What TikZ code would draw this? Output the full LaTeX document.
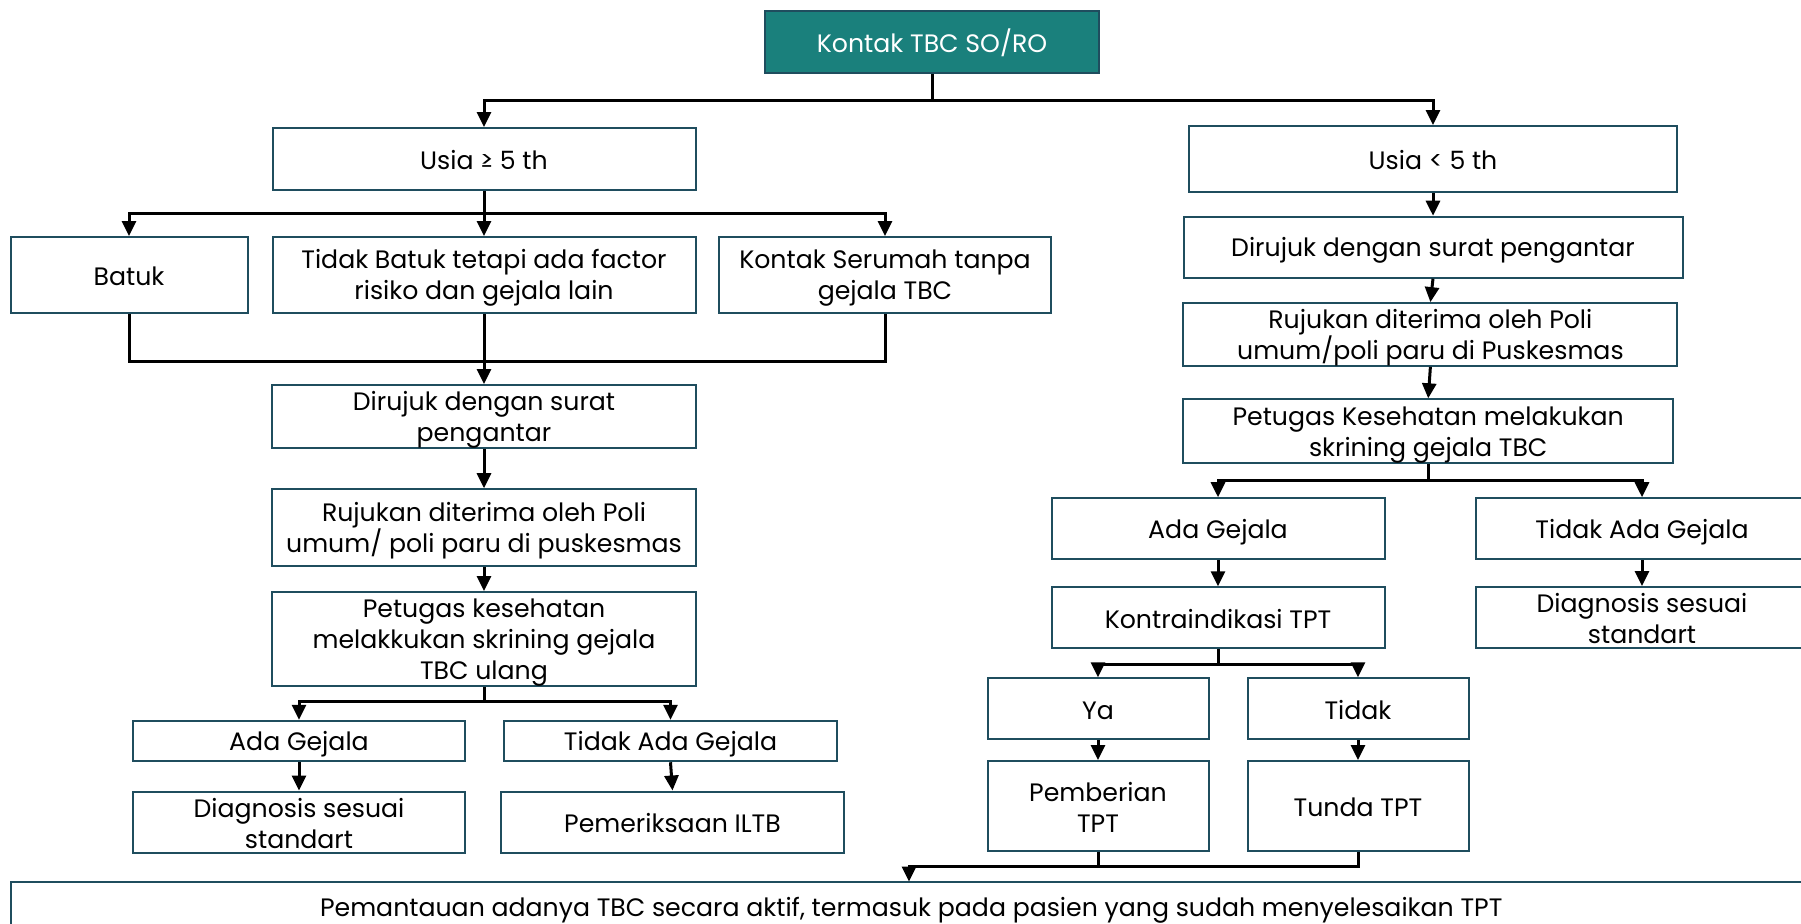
\documentclass[tikz,border=0pt]{standalone}
\usepackage{fontspec}
\setmainfont{Poppins}
\usetikzlibrary{arrows.meta}
\definecolor{boxline}{RGB}{31,77,94}
\definecolor{tealfill}{RGB}{26,128,124}
\newcommand\tls{\rule{0pt}{12.6pt}}
\newcommand\bls{\rule[-2pt]{0pt}{2pt}}
\tikzset{
  box/.style 2 args={draw=boxline, line width=1pt, fill=white, align=center, inner sep=0pt,
    minimum width=#1*0.5pt, minimum height=#2*0.5pt,
    font=\fontsize{12.6}{15.5}\selectfont, text=black},
  topbox/.style={draw=boxline, line width=1pt, fill=tealfill, text=white},
  ln/.style={line width=1.5pt, black},
  arr/.style={line width=1.5pt, black, -{Triangle[length=7.5pt,width=7pt]}},
}
\begin{document}
\begin{tikzpicture}[x=0.5pt,y=-0.5pt]
\clip (0,0) rectangle (1801,923);
\fill[white] (0,0) rectangle (1801,923);
% top
\node[box={334}{62}, topbox] (kontak) at (932,42) {\tls Kontak TBC SO/RO\bls};
% left branch
\node[box={423}{62}] (usiaA) at (484,159) {\tls Usia ≥ 5 th\bls};
\node[box={237}{76}] (batuk) at (129,275) {\tls Batuk\bls};
\node[box={423}{76}] (tbatuk) at (484,275) {\tls Tidak Batuk tetapi ada factor\\risiko dan gejala lain\bls};
\node[box={332}{76}] (serumah) at (885,275) {\tls Kontak Serumah tanpa\\gejala TBC\bls};
\node[box={424}{63}] (dirL) at (484,416.5) {\tls Dirujuk dengan surat\\pengantar\bls};
\node[box={424}{77}] (rujL) at (484,527.7) {\tls Rujukan diterima oleh Poli\\umum/ poli paru di puskesmas\bls};
\node[box={424}{84.5}] (petL) at (484,639) {\tls Petugas kesehatan\\melakkukan skrining gejala\\TBC ulang\bls};
\node[box={332}{40.5}] (adaL) at (299,741) {\tls Ada Gejala\bls};
\node[box={333}{40.5}] (tadaL) at (670.5,741) {\tls Tidak Ada Gejala\bls};
\node[box={332}{61}] (diagL) at (299,822) {\tls Diagnosis sesuai\\standart\bls};
\node[box={343}{61}] (iltb) at (672.5,822) {\tls Pemeriksaan ILTB\bls};
% right branch
\node[box={488}{66}] (usiaB) at (1433,159) {\tls Usia < 5 th\bls};
\node[box={499}{61}] (dirR) at (1433,247.2) {\tls Dirujuk dengan surat pengantar\bls};
\node[box={494}{61}] (rujR) at (1430.4,334.5) {\tls Rujukan diterima oleh Poli\\umum/poli paru di Puskesmas\bls};
\node[box={490}{64}] (petR) at (1428.2,431.3) {\tls Petugas Kesehatan melakukan\\skrining gejala TBC\bls};
\node[box={333}{61}] (adaR) at (1218,528.7) {\tls Ada Gejala\bls};
\node[box={333}{61}] (tadaR) at (1642,528.7) {\tls Tidak Ada Gejala\bls};
\node[box={333}{60.5}] (kontra) at (1218,617.5) {\tls Kontraindikasi TPT\bls};
\node[box={333}{61}] (diagR) at (1642,617.5) {\tls Diagnosis sesuai\\standart\bls};
\node[box={221}{61}] (ya) at (1098,708.8) {\tls Ya\bls};
\node[box={221}{61}] (tidakR) at (1358,708.8) {\tls Tidak\bls};
\node[box={221}{89.7}] (pember) at (1098,805.9) {\tls Pemberian\\TPT\bls};
\node[box={221}{89.7}] (tunda) at (1358,805.9) {\tls Tunda TPT\bls};
% bottom
\node[box={1801.5}{51}] (pemant) at (911.25,907) {\tls Pemantauan adanya TBC secara aktif, termasuk pada pasien yang sudah menyelesaikan TPT\bls};
% connectors top
\draw[ln] (kontak.south) -- (932,100) coordinate (k1);
\draw[arr] (k1) -| (usiaA.north);
\draw[arr] (k1) -| (usiaB.north);
% left
\draw[ln] (usiaA.south) -- (484,213) coordinate (b1);
\draw[arr] (b1) -| (batuk.north);
\draw[arr] (b1) -| (serumah.north);
\draw[arr] (usiaA.south) -- (tbatuk.north);
\coordinate (m1) at (484,361);
\draw[ln] (batuk.south) |- (m1);
\draw[ln] (serumah.south) |- (m1);
\draw[arr] (tbatuk.south) -- (dirL.north);
\draw[arr] (dirL.south) -- (rujL.north);
\draw[arr] (rujL.south) -- (petL.north);
\draw[ln] (petL.south) -- (484,701) coordinate (b2);
\draw[arr] (b2) -| (adaL.north);
\draw[arr] (b2) -| (tadaL.north);
\draw[arr] (adaL.south) -- (diagL.north);
\draw[arr] (tadaL.south) -- (iltb.north);
% right
\draw[arr] (usiaB.south) -- (dirR.north);
\draw[arr] (dirR.south) -- (rujR.north);
\draw[arr] (rujR.south) -- (petR.north);
\draw[ln] (petR.south) -- (1428.2,480) coordinate (b3);
\draw[arr] (b3) -| (adaR.north);
\draw[arr] (b3) -| (tadaR.north);
\draw[arr] (adaR.south) -- (kontra.north);
\draw[arr] (tadaR.south) -- (diagR.north);
\draw[ln] (kontra.south) -- (1218,664) coordinate (b4);
\draw[arr] (b4) -| (ya.north);
\draw[arr] (b4) -| (tidakR.north);
\draw[arr] (ya.south) -- (pember.north);
\draw[arr] (tidakR.south) -- (tunda.north);
\coordinate (m2) at (1098,866);
\coordinate (pin) at (909,881.5);
\draw[ln] (pember.south) -- (m2);
\draw[ln] (tunda.south) |- (m2);
\draw[arr] (m2) -| (pin);
\end{tikzpicture}
\end{document}
